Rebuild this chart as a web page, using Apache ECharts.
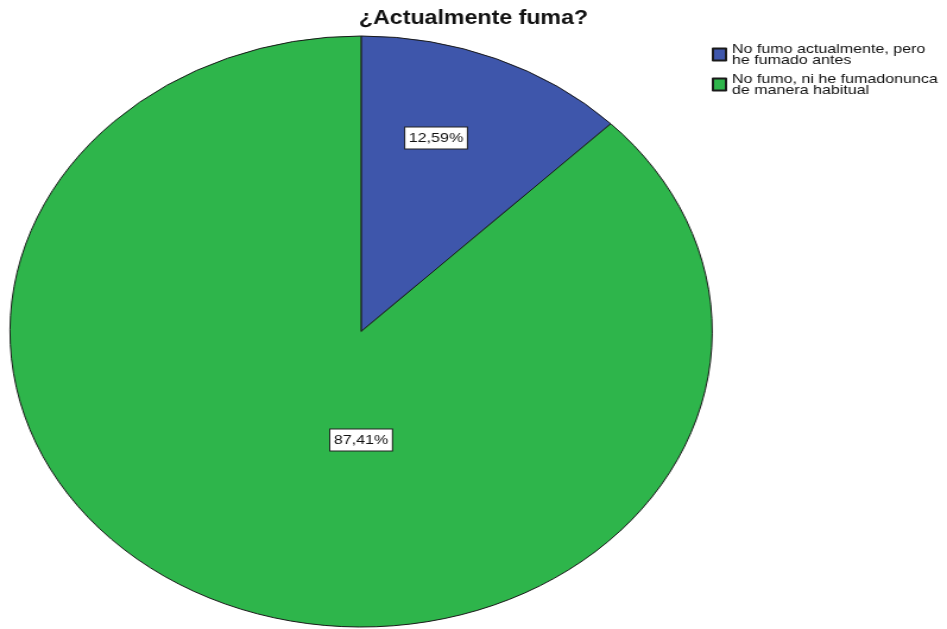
<!DOCTYPE html>
<html>
<head>
<meta charset="utf-8">
<script src="https://cdn.jsdelivr.net/npm/echarts@6/dist/echarts.min.js"></script>
<style>
  html, body { margin: 0; padding: 0; background: #fff; overflow: hidden; }
  /* The chart is laid out on a narrower canvas and widened horizontally,
     which gives the oval pie and the broad lettering. */
  #chart { width: 797px; height: 629px; transform: scaleX(1.1882); transform-origin: 0 0; }
</style>
</head>
<body>
<div id="chart"></div>
<script>
const titleText = '¿Actualmente fuma?';
const categories = [
  'No fumo actualmente, pero\nhe fumado antes',
  'No fumo, ni he fumadonunca\nde manera habitual'
];
const shares = [12.59, 87.41];
const sliceColors = ['#3E56AB', '#2EB54B'];

// Geometry of the pie on the unstretched canvas
const CX = 303.9, CY = 331.5, R = 295.5;
// Where each percentage box sits, as offsets from the centre in units of the radius
const labelSpots = [[0.2135, -0.655], [0, 0.367]];

const chart = echarts.init(document.getElementById('chart'), null, { renderer: 'canvas' });

const fmtPct = v => v.toFixed(2).replace('.', ',') + '%';

chart.setOption({
  animation: false,
  backgroundColor: '#ffffff',
  title: {
    text: titleText,
    left: 'center',
    top: 4,
    textStyle: { fontFamily: 'Liberation Sans, Arial, sans-serif', fontSize: 19.5, fontWeight: 'bold', color: '#111' }
  },
  legend: {
    orient: 'vertical',
    left: 599,
    top: 42,
    padding: 0,
    icon: 'rect',
    itemWidth: 11,
    itemHeight: 12,
    itemGap: 5,
    selectedMode: false,
    data: categories,
    textStyle: { fontFamily: 'Liberation Sans, Arial, sans-serif', fontSize: 13.5, lineHeight: 11, color: '#111' }
  },
  series: [{
    type: 'pie',
    center: [CX, CY],
    radius: R,
    startAngle: 90,
    clockwise: true,
    silent: true,
    emphasis: { disabled: true },
    itemStyle: { borderColor: '#1a1a1a', borderWidth: 1 },
    label: {
      show: true,
      position: 'inside',
      formatter: p => fmtPct(p.value),
      fontFamily: 'Liberation Sans, Arial, sans-serif',
      fontSize: 13.5,
      color: '#111',
      backgroundColor: '#ffffff',
      borderColor: '#222',
      borderWidth: 1,
      padding: [4, 3, 3, 3]
    },
    labelLine: { show: false },
    labelLayout: function (params) {
      const spot = labelSpots[params.dataIndex];
      return { x: CX + spot[0] * R, y: CY + spot[1] * R, align: 'center', verticalAlign: 'middle' };
    },
    data: categories.map((name, i) => ({
      name: name,
      value: shares[i],
      itemStyle: { color: sliceColors[i] }
    }))
  }]
});
</script>
</body>
</html>
